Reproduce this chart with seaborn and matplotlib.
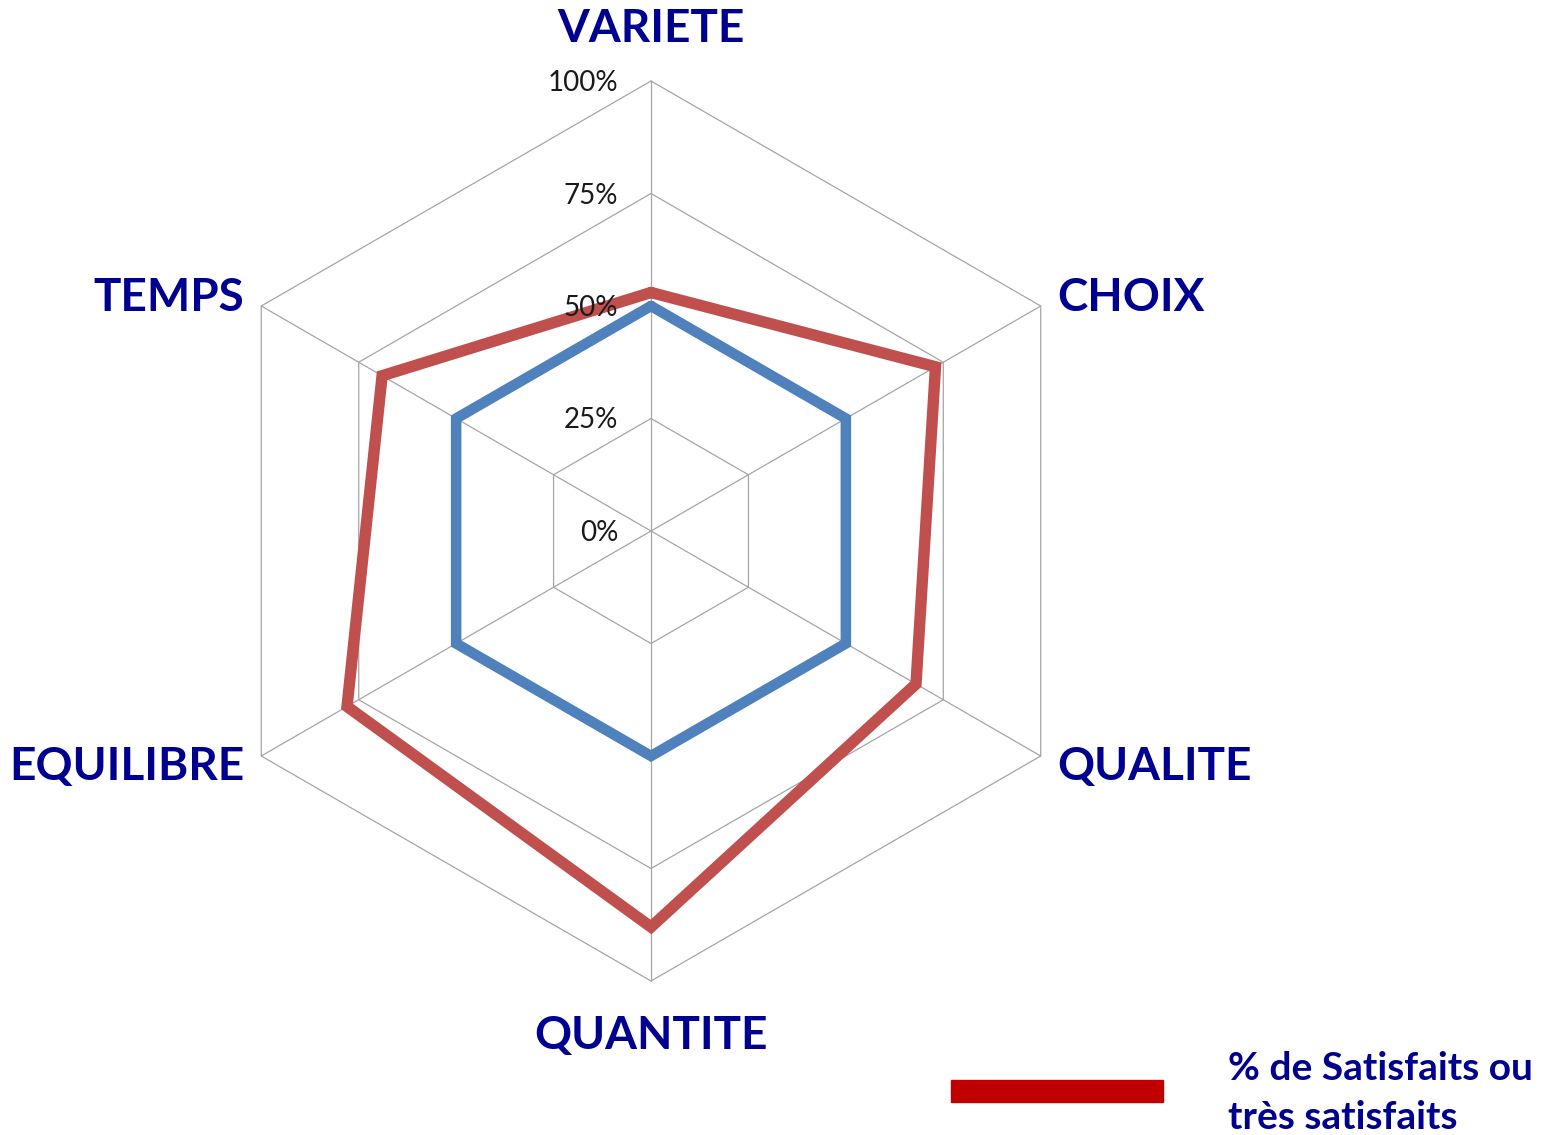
import numpy as np
import pandas as pd
import matplotlib
matplotlib.use("Agg")
import matplotlib.pyplot as plt
import seaborn as sns
from matplotlib.patches import Rectangle

categories = ["VARIETE", "CHOIX", "QUALITE", "QUANTITE", "EQUILIBRE", "TEMPS"]
ref_values = [50, 50, 50, 50, 50, 50]
satisf_values = [53, 73, 68, 88, 78, 69]
tick_values = [0, 25, 50, 75, 100]
tick_labels = ["0%", "25%", "50%", "75%", "100%"]
legend_label = "% de Satisfaits ou\ntrès satisfaits"

sns.set_theme(style="white")
plt.rcParams['font.family'] = ['Lato', 'DejaVu Sans']

W, H = 1552, 1135
fig = plt.figure(figsize=(W / 100, H / 100), dpi=100)
ax = fig.add_axes([0, 0, 1, 1])
cx, cy, R = 651, 531, 450
ax.set_xlim(-cx / R, (W - cx) / R)
ax.set_ylim(-(H - cy) / R, cy / R)
ax.set_aspect("equal")
ax.axis("off")

n = len(categories)
angles = np.deg2rad(90 - 360 * np.arange(n) / n)

def to_xy(vals):
    v = np.asarray(vals, dtype=float) / 100
    v = np.append(v, v[0])
    a = np.append(angles, angles[0])
    return v * np.cos(a), v * np.sin(a)

grid_c = "#A6A6A6"
for t in tick_values[1:]:
    gx, gy = to_xy([t] * n)
    ax.plot(gx, gy, color=grid_c, lw=0.9, zorder=1)
for a in angles:
    ax.plot([0, np.cos(a)], [0, np.sin(a)], color=grid_c, lw=0.9, zorder=1)

rows = []
for name, vals in [("ref", ref_values), ("sat", satisf_values)]:
    x, y = to_xy(vals)
    for i, (xx, yy) in enumerate(zip(x, y)):
        rows.append({"serie": name, "order": i, "x": xx, "y": yy})
df = pd.DataFrame(rows)

sns.lineplot(data=df[df.serie == "ref"], x="x", y="y", sort=False, estimator=None,
             color="#4F81BD", lw=7.6, ax=ax, zorder=3, solid_joinstyle="miter")
sns.lineplot(data=df[df.serie == "sat"], x="x", y="y", sort=False, estimator=None,
             color="#C0504D", lw=8.2, ax=ax, zorder=4, solid_joinstyle="miter")

for t, lab in zip(tick_values, tick_labels):
    ax.annotate(lab, (0, t / 100), xytext=(-33, -2), textcoords="offset pixels",
                ha="right", va="center", fontsize=20, color="#1a1a1a", zorder=6)

label_color = "#000090"
offsets = {
    "VARIETE": (0, 52, "center", "center"),
    "CHOIX": (17, 8, "left", "center"),
    "QUALITE": (17, -11, "left", "center"),
    "QUANTITE": (0, -55, "center", "center"),
    "EQUILIBRE": (-17, -11, "right", "center"),
    "TEMPS": (-17, 8, "right", "center"),
}
for cat, a in zip(categories, angles):
    dx, dy, ha, va = offsets[cat]
    ax.annotate(cat, (np.cos(a), np.sin(a)), xytext=(dx, dy), textcoords="offset pixels",
                ha=ha, va=va, fontsize=33, fontweight="bold", color=label_color)

fig.patches.append(Rectangle((951 / W, 1 - 1102 / H), 212 / W, 22 / H,
                             transform=fig.transFigure, color="#C00000"))
fig.text(1228 / W, 1 - 1093 / H, legend_label, ha="left", va="center",
         fontsize=28, fontweight="bold", color=label_color, linespacing=1.45)

fig.savefig("out.png", dpi=100)
